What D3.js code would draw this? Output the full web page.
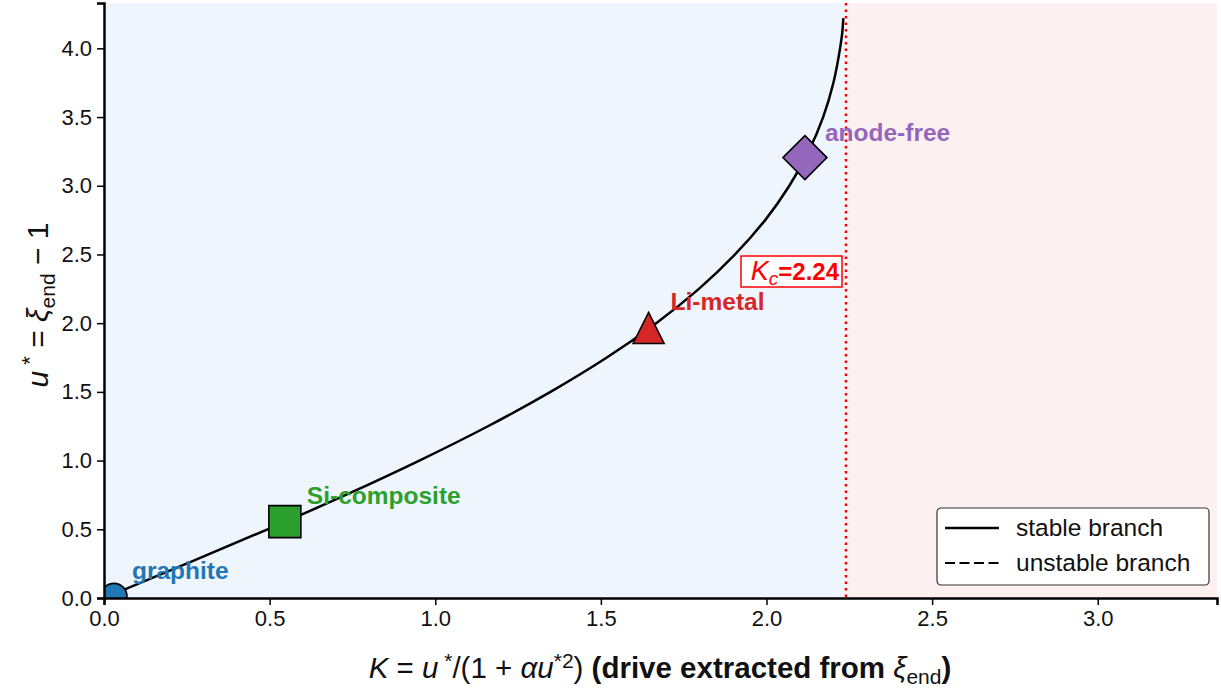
<!DOCTYPE html>
<html>
<head>
<meta charset="utf-8">
<script src="https://cdn.jsdelivr.net/npm/d3@7"></script>
<style>
  body { margin: 0; background: #fff; }
  svg { font-family: "Liberation Sans", Arial, sans-serif; }
</style>
</head>
<body>
<svg id="chart" width="1221" height="691"></svg>
<script>
// Curve (u*, K)
var curveU = [0, 0.25, 0.5, 0.75, 1.0, 1.25, 1.5, 1.75, 2.0, 2.25, 2.5, 2.75, 3.0, 3.25, 3.5, 3.75, 4.0, 4.1, 4.22]
var curveK = [0, 0.249, 0.494, 0.730, 0.952, 1.159, 1.348, 1.518, 1.667, 1.796, 1.905, 1.996, 2.069, 2.127, 2.171, 2.202, 2.222, 2.228, 2.232]

// Materials
var matNames = ["graphite", "Si-composite", "Li-metal", "anode-free"]
var matK = [0.03, 0.546, 1.644, 2.116]
var matU = [0.012, 0.556, 1.965, 3.205]
var matColors = ["#1f77b4", "#2ca02c", "#d62728", "#9467bd"]
var matShapes = ["circle", "square", "triangle", "diamond"]

var Kc = 2.24
var xTicks = [0, 0.5, 1.0, 1.5, 2.0, 2.5, 3.0]
var yTicks = [0, 0.5, 1.0, 1.5, 2.0, 2.5, 3.0, 3.5, 4.0]
var legendLabels = ["stable branch", "unstable branch"]

var svg = d3.select("#chart")
var pLeft = 104, pRight = 1217, pTop = 3, pBottom = 598

var x = d3.scaleLinear().domain([0, 3.36]).range([pLeft, pRight])
var y = d3.scaleLinear().domain([0, 4.33]).range([pBottom, pTop])

svg.append("defs").append("clipPath").attr("id", "plotclip")
    .append("rect").attr("x", pLeft).attr("y", pTop)
    .attr("width", pRight - pLeft).attr("height", pBottom - pTop)

var plot = svg.append("g").attr("clip-path", "url(#plotclip)")

// Shaded regions
plot.append("rect")
    .attr("x", x(0)).attr("y", pTop)
    .attr("width", x(Kc) - x(0)).attr("height", pBottom - pTop)
    .style("fill", "#eff5fd")
plot.append("rect")
    .attr("x", x(Kc)).attr("y", pTop)
    .attr("width", pRight - x(Kc)).attr("height", pBottom - pTop)
    .style("fill", "#fdf0f0")

// Stable branch
var pts = curveU.map((u, i) => [curveK[i], u])
var line = d3.line()
    .x(d => x(d[0]))
    .y(d => y(d[1]))
    .curve(d3.curveMonotoneY)
plot.append("path")
    .datum(pts)
    .attr("d", line)
    .style("fill", "none")
    .style("stroke", "black")
    .style("stroke-width", 2.5)

// Critical line
plot.append("line")
    .attr("x1", x(Kc)).attr("x2", x(Kc))
    .attr("y1", pTop).attr("y2", pBottom)
    .style("stroke", "#ff0000")
    .style("stroke-width", 2.5)
    .style("stroke-dasharray", "2.5,4")

// Markers (matplotlib-like shapes, half-size r)
function markerPath(shape, r) {
    var p = d3.path()
    if (shape === "circle") {
        p.arc(0, 0, r, 0, 2 * Math.PI)
    } else if (shape === "square") {
        p.rect(-r, -r, 2 * r, 2 * r)
    } else if (shape === "triangle") {
        p.moveTo(0, -r); p.lineTo(r, r); p.lineTo(-r, r); p.closePath()
    } else {
        p.moveTo(0, -r); p.lineTo(r, 0); p.lineTo(0, r); p.lineTo(-r, 0); p.closePath()
    }
    return p.toString()
}
var markerR = { circle: 13, square: 16, triangle: 15.5, diamond: 22 }

matNames.forEach(function(name, i) {
    var shape = matShapes[i]
    plot.append("path")
        .attr("d", markerPath(shape, markerR[shape]))
        .attr("transform", "translate(" + x(matK[i]) + "," + y(matU[i]) + ")")
        .style("fill", matColors[i])
        .style("stroke", "black")
        .style("stroke-width", 1.6)
        .style("stroke-linejoin", "miter")
})

// Material labels
var labelOffsets = [[18, -17], [22, -18], [22, -18], [20, -17]]
matNames.forEach(function(name, i) {
    svg.append("text")
        .attr("x", x(matK[i]) + labelOffsets[i][0])
        .attr("y", y(matU[i]) + labelOffsets[i][1])
        .text(name)
        .style("font-size", "24.5px")
        .style("font-weight", "bold")
        .style("fill", matColors[i])
})

// Kc label
var kcG = svg.append("g")
kcG.append("rect")
    .attr("x", x(Kc) - 105).attr("y", 256)
    .attr("width", 101).attr("height", 31)
    .style("fill", "white")
    .style("stroke", "#ff0000")
    .style("stroke-width", 1.5)
var kcT = kcG.append("text")
    .attr("x", x(Kc) - 7).attr("y", 280)
    .attr("text-anchor", "end")
    .style("font-size", "24px")
    .style("fill", "#ff0000")
kcT.append("tspan").text("K").style("font-style", "italic").style("font-size", "27px")
kcT.append("tspan").text("c").style("font-style", "italic").style("font-size", "19px").attr("dy", 5)
kcT.append("tspan").text("=2.24").style("font-weight", "bold").attr("dy", -5)

// Axes
var xAxis = svg.append("g")
    .attr("transform", "translate(0," + pBottom + ")")
    .call(d3.axisBottom(x).tickValues(xTicks).tickFormat(d3.format(".1f")).tickSizeOuter(0).tickSize(7).tickPadding(5))
var yAxis = svg.append("g")
    .attr("transform", "translate(" + pLeft + ",0)")
    .call(d3.axisLeft(y).tickValues(yTicks).tickFormat(d3.format(".1f")).tickSizeOuter(0).tickSize(7).tickPadding(5))

;[xAxis, yAxis].forEach(function(a) {
    a.select(".domain").style("stroke-width", 2.5).style("stroke", "black")
    a.selectAll(".tick line").style("stroke-width", 1.5)
    a.selectAll(".tick text").style("font-size", "22px").style("fill", "#111")
        .style("font-family", "'Liberation Sans', Arial, sans-serif")
})

// X label
var xl = svg.append("text")
    .attr("x", 660).attr("y", 678)
    .attr("text-anchor", "middle")
    .style("font-size", "29.5px")
    .style("fill", "#111")
xl.append("tspan").text("K").style("font-style", "italic")
xl.append("tspan").text(" = ")
xl.append("tspan").text("u").style("font-style", "italic")
xl.append("tspan").text(" *").attr("dy", -10).style("font-size", "21px")
xl.append("tspan").text("/(1 + ").attr("dy", 10)
xl.append("tspan").text("αu").style("font-style", "italic")
xl.append("tspan").text("*2").attr("dy", -10).style("font-size", "21px")
xl.append("tspan").text(")  ").attr("dy", 10)
xl.append("tspan").text("(drive extracted from ").style("font-weight", "bold")
xl.append("tspan").text("ξ").style("font-style", "italic")
xl.append("tspan").text("end").attr("dy", 6).style("font-size", "21px")
xl.append("tspan").text(")").attr("dy", -6).style("font-weight", "bold")

// Y label
var yl = svg.append("text")
    .attr("transform", "translate(48,305) rotate(-90)")
    .attr("text-anchor", "middle")
    .style("font-size", "30px")
    .style("fill", "#111")
yl.append("tspan").text("u").style("font-style", "italic")
yl.append("tspan").text(" *").attr("dy", -11).style("font-size", "22px")
yl.append("tspan").text(" = ").attr("dy", 11)
yl.append("tspan").text("ξ").style("font-style", "italic")
yl.append("tspan").text("end").attr("dy", 7).style("font-size", "21px")
yl.append("tspan").text(" − 1").attr("dy", -7)

// Legend
var lg = svg.append("g").attr("transform", "translate(937,508)")
lg.append("rect")
    .attr("width", 272).attr("height", 77)
    .attr("rx", 4)
    .style("fill", "white")
    .style("stroke", "#333")
    .style("stroke-width", 1.2)
legendLabels.forEach(function(lab, i) {
    var ly = 20 + i * 35
    lg.append("line")
        .attr("x1", 8).attr("x2", 62)
        .attr("y1", ly).attr("y2", ly)
        .style("stroke", "black")
        .style("stroke-width", i === 0 ? 2.5 : 1.8)
        .style("stroke-dasharray", i === 0 ? null : "10,4.5")
    lg.append("text")
        .attr("x", 79).attr("y", ly + 8)
        .text(lab)
        .style("font-size", "24.5px")
        .style("fill", "#111")
})
</script>
</body>
</html>
